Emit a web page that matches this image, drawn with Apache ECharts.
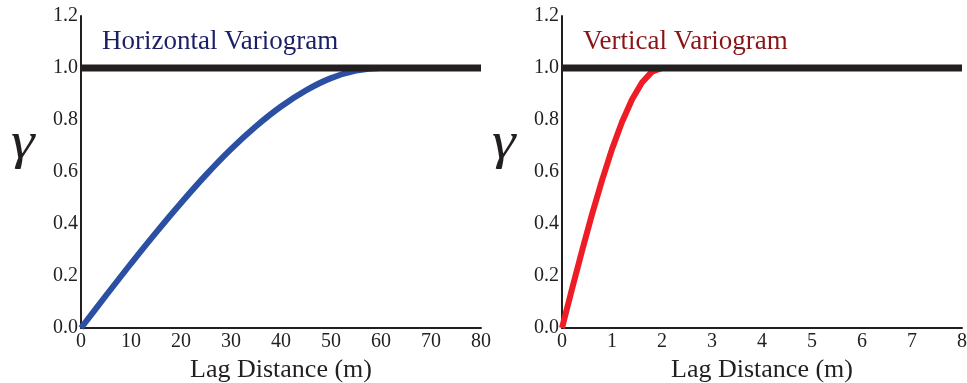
<!DOCTYPE html>
<html>
<head>
<meta charset="utf-8">
<style>html,body{margin:0;padding:0;background:#fff;}#chart{width:967px;height:383px;}</style>
<script src="https://cdn.jsdelivr.net/npm/echarts@6/dist/echarts.min.js"></script>
</head>
<body>
<div id="chart"></div>
<script>
// Horizontal variogram (lag in m, gamma)
const horizLag   = [0, 5, 10, 15, 20, 25, 30, 35, 40, 45, 50, 55, 60, 80];
const horizGamma = [0, 0.125, 0.248, 0.367, 0.481, 0.589, 0.688, 0.776, 0.852, 0.914, 0.961, 0.990, 1.0, 1.0];
// Vertical variogram (lag in m, gamma)
const vertLag   = [0, 0.2, 0.4, 0.6, 0.8, 1.0, 1.2, 1.4, 1.6, 1.8, 2.0, 8];
const vertGamma = [0, 0.150, 0.296, 0.437, 0.568, 0.688, 0.792, 0.879, 0.944, 0.986, 1.0, 1.0];
// Sill reference
const sill = 1.0;
const horizRange = [0, 80];
const vertRange = [0, 8];
const yTicks = [0, 0.2, 0.4, 0.6, 0.8, 1.0, 1.2];

const ink = '#231f20';
const serif = '"Liberation Serif", "DejaVu Serif", serif';

function pairs(xs, ys) { return xs.map((x, i) => [x, ys[i]]); }

function xAxis(gi, range, interval) {
  return {
    type: 'value', gridIndex: gi, min: range[0], max: range[1], interval: interval,
    name: 'Lag Distance (m)', nameLocation: 'middle', nameGap: 27,
    nameTextStyle: { fontFamily: serif, fontSize: 26, color: ink },
    axisLine: { show: true, lineStyle: { color: ink, width: 2 } },
    axisTick: { show: false }, splitLine: { show: false },
    axisLabel: { fontFamily: serif, fontSize: 20, color: ink, margin: 4 }
  };
}
function yAxis(gi) {
  return {
    type: 'value', gridIndex: gi, min: yTicks[0], max: yTicks[yTicks.length - 1], interval: 0.2,
    axisLine: { show: true, lineStyle: { color: ink, width: 2 } },
    axisTick: { show: false }, splitLine: { show: false },
    axisLabel: { fontFamily: serif, fontSize: 20, color: ink, margin: 3,
      formatter: v => v.toFixed(1) }
  };
}

const chart = echarts.init(document.getElementById('chart'), null, { renderer: 'canvas' });
chart.setOption({
  animation: false,
  backgroundColor: '#fff',
  grid: [
    { left: 81, right: 486, top: 16, bottom: 55, containLabel: false, outerBoundsMode: 'none' },
    { left: 562, right: 5, top: 16, bottom: 55, containLabel: false, outerBoundsMode: 'none' }
  ],
  xAxis: [xAxis(0, horizRange, 10), xAxis(1, vertRange, 1)],
  yAxis: [yAxis(0), yAxis(1)],
  graphic: [
    { type: 'text', left: 102, top: 28, style: { text: 'Horizontal Variogram', fontFamily: serif, fontSize: 27, fill: '#1b1f66' } },
    { type: 'text', left: 583, top: 28, style: { text: 'Vertical Variogram', fontFamily: serif, fontSize: 27, fill: '#8a1519' } },
    { type: 'text', left: 11, top: 118, scaleX: 1.15, style: { text: 'γ', fontFamily: serif, fontStyle: 'italic', fontSize: 52, fill: ink } },
    { type: 'text', left: 492, top: 118, scaleX: 1.15, style: { text: 'γ', fontFamily: serif, fontStyle: 'italic', fontSize: 52, fill: ink } }
  ],
  series: [
    { type: 'line', xAxisIndex: 0, yAxisIndex: 0, data: pairs(horizLag, horizGamma), smooth: 0.3,
      showSymbol: false, lineStyle: { color: '#2b50a3', width: 6 }, z: 2 },
    { type: 'line', xAxisIndex: 0, yAxisIndex: 0, data: pairs(horizRange, [sill, sill]),
      showSymbol: false, lineStyle: { color: ink, width: 7 }, z: 3 },
    { type: 'line', xAxisIndex: 1, yAxisIndex: 1, data: pairs(vertLag, vertGamma),
      showSymbol: false, lineStyle: { color: '#ee1c25', width: 6, join: 'round' }, z: 2 },
    { type: 'line', xAxisIndex: 1, yAxisIndex: 1, data: pairs(vertRange, [sill, sill]),
      showSymbol: false, lineStyle: { color: ink, width: 7 }, z: 3 }
  ]
});
</script>
</body>
</html>
